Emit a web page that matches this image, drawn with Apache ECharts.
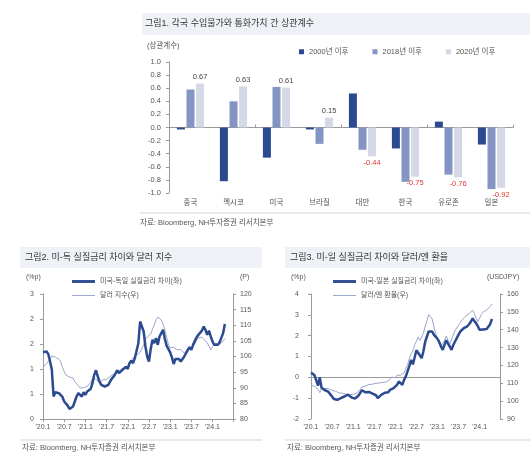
<!DOCTYPE html>
<html><head><meta charset="utf-8">
<script src="https://cdn.jsdelivr.net/npm/echarts@6/dist/echarts.min.js"></script>
<style>html,body{margin:0;padding:0;background:#fff}#c{width:530px;height:458px}</style>
</head><body><div id="c"></div>
<script>
const FONT = "'Liberation Sans', 'Noto Sans CJK KR', sans-serif";

// ---- Figure 1: correlation bars ----
const barCategories = ['중국','멕시코','미국','브라질','대만','한국','유로존','일본'];
const since2000 = [-0.03,-0.82,-0.46,-0.03,0.52,-0.32,0.09,-0.26];
const since2018 = [0.58,0.40,0.62,-0.25,-0.34,-0.83,-0.72,-0.94];
const since2020 = [0.67,0.63,0.61,0.15,-0.44,-0.75,-0.76,-0.92];
const barSeriesNames = ['2000년 이후','2018년 이후','2020년 이후'];

// ---- Figures 2 & 3: half-monthly readings from Jan 2020 ----
const xTickLabels = ["'20.1","'20.7","'21.1","'21.7","'22.1","'22.7","'23.1","'23.7","'24.1"];

const rateDiffUSDE = [1.60,1.62,1.62,1.56,1.38,1.18,0.54,0.64,0.66,0.62,
 0.58,0.53,0.42,0.37,0.32,0.24,0.20,0.30,0.42,0.54,
 0.62,0.58,0.54,0.64,0.58,0.66,0.62,0.72,0.86,1.06,
 1.17,1.02,0.90,0.82,0.85,0.78,0.74,0.82,0.90,0.97,
 1.02,1.09,1.17,1.10,1.14,1.18,1.14,1.25,1.20,1.34,
 1.40,1.34,1.46,1.42,1.82,2.34,2.31,2.10,1.74,1.50,
 1.38,1.68,1.90,1.82,1.94,1.78,1.98,2.06,2.14,1.92,
 1.76,1.80,1.60,1.48,1.32,1.44,1.48,1.44,1.38,1.42,
 1.50,1.54,1.66,1.72,1.66,1.78,1.88,1.96,2.02,2.06,
 2.12,2.22,2.14,2.02,2.12,1.98,1.86,1.78,1.82,1.78,
 1.84,1.88,2.06,2.28];

const dollarIndex = [96.6,97.0,97.7,98.4,99.1,100.2,100.0,99.8,99.5,99.1,
 98.4,96.6,95.2,94.1,93.6,93.4,93.6,93.1,92.0,91.3,
 90.6,89.9,89.6,90.0,90.2,90.4,91.0,91.7,92.8,93.4,
 92.8,92.2,91.5,92.0,92.6,93.0,92.6,93.1,93.6,94.0,
 94.3,94.7,94.9,95.3,95.7,96.0,96.6,97.2,97.0,98.3,
 98.9,99.5,100.0,100.5,101.1,101.3,102.7,103.7,105.5,106.2,
 105.9,107.2,108.7,110.1,111.7,112.6,112.8,111.7,110.4,108.5,
 106.2,104.0,102.7,102.1,103.0,102.4,102.1,102.6,102.3,101.7,
 101.1,101.5,101.9,102.1,102.7,103.2,104.0,105.1,106.0,106.4,
 106.2,105.5,105.7,104.5,103.2,102.1,103.2,103.6,104.3,103.6,
 103.2,104.3,105.0,105.7];

const rateDiffUSJP = [0.23,0.15,0.10,0.02,-0.40,0.00,-0.50,-0.58,-0.62,-0.66,
 -0.70,-0.82,-0.92,-1.04,-1.05,-1.08,-1.04,-1.00,-0.98,-0.92,
 -0.86,-0.83,-0.92,-0.96,-0.98,-1.02,-0.96,-0.88,-0.75,-0.62,
 -0.66,-0.72,-0.76,-0.70,-0.62,-0.78,-0.72,-0.86,-1.00,-0.92,
 -0.84,-0.78,-0.74,-0.76,-0.72,-0.60,-0.68,-0.52,-0.45,-0.36,
 -0.20,-0.28,-0.36,-0.12,0.05,0.30,0.55,0.84,0.62,0.95,
 1.30,1.18,1.22,0.92,1.25,1.70,1.96,2.20,2.28,2.20,
 2.04,1.96,1.85,1.70,1.48,1.32,1.56,1.78,1.62,1.48,
 1.32,1.55,1.72,1.88,2.05,2.20,2.28,2.36,2.40,2.45,
 2.55,2.67,2.83,2.70,2.60,2.45,2.28,2.33,2.30,2.36,
 2.32,2.40,2.55,2.80];

const usdJpy = [108.6,109.2,108.5,107.5,106.5,104.8,107.0,107.8,107.2,107.5,
 107.0,106.5,106.0,106.2,105.5,105.0,104.6,104.8,104.4,104.0,
 103.8,104.2,103.6,103.5,103.8,104.0,104.5,105.5,106.5,108.0,
 109.0,108.5,108.8,109.3,110.0,109.5,110.2,110.0,109.8,110.2,
 110.0,110.5,111.0,110.8,111.5,112.3,113.5,113.8,113.0,114.5,
 115.0,114.5,115.2,116.0,116.8,120.5,124.0,126.5,128.0,131.5,
 133.5,136.0,134.0,134.5,138.0,142.0,145.0,148.5,149.5,146.0,
 141.5,138.0,134.5,132.0,130.5,131.0,134.0,136.5,135.5,132.0,
 133.0,137.0,139.5,140.5,142.5,144.0,145.5,146.5,147.5,148.0,
 149.0,150.0,151.0,149.0,146.5,144.5,146.5,148.5,150.0,150.5,
 151.0,152.0,153.0,154.5];

// months since Jan 2020 of each reading (half-month steps)
const monthsSince2020 = rateDiffUSDE.map((_, i) => i * 0.5);
const pairs = vals => vals.map((v, i) => [monthsSince2020[i], v]);

const DARK = '#2C4A90', MID = '#8495C3', LIGHT = '#D5D9E6', THIN = '#9AA4CC';
const AX = '#9a9a9a', TXT = '#555';
const THICK_ICON = 'path://M0,0H24V3H0Z';
const THIN_ICON = 'path://M0,0H24V1H0Z';

const xFmt = v => { const k = v / 6; return Math.abs(k - Math.round(k)) < 1e-6 ? (xTickLabels[Math.round(k)] || '') : ''; };

const chart = echarts.init(document.getElementById('c'), null, {renderer: 'canvas'});

const lineX = (grid, showLine) => ({
  type: 'value', gridIndex: grid, min: 0, max: 53.8, interval: 6,
  axisLine: {show: showLine, onZero: false, lineStyle: {color: AX}},
  axisTick: {show: showLine, length: 3, lineStyle: {color: AX}},
  splitLine: {show: false},
  axisLabel: {fontSize: 7, color: TXT, margin: 5, fontFamily: FONT, formatter: xFmt}
});
const yAx = (grid, pos, min, max, interval, margin, fmt, fs) => ({
  type: 'value', gridIndex: grid, position: pos, min, max, interval,
  axisLine: {show: true, onZero: false, lineStyle: {color: AX}},
  axisTick: {show: true, length: 3, lineStyle: {color: AX}},
  splitLine: {show: false},
  axisLabel: {fontSize: fs || 7, color: TXT, margin, fontFamily: FONT, formatter: fmt}
});
const lineLegend = (left, names) => ({
  orient: 'vertical', left, top: 278, itemWidth: 23, itemHeight: 8, itemGap: 7, padding: 0,
  symbolKeepAspect: true,
  data: [{name: names[0], icon: THICK_ICON}, {name: names[1], icon: THIN_ICON}],
  textStyle: {fontSize: 7, color: TXT, fontFamily: FONT}
});

const option = {
  animation: false,
  textStyle: {fontFamily: FONT},
  title: [
    {text: '그림1. 각국 수입물가와 통화가치 간 상관계수', left: 145, top: 19, padding: 0,
     textStyle: {fontSize: 9, fontWeight: 'normal', color: '#333', fontFamily: FONT}},
    {text: '그림2. 미-독 실질금리 차이와 달러 지수', left: 25, top: 253, padding: 0,
     textStyle: {fontSize: 9, fontWeight: 'normal', color: '#333', fontFamily: FONT}},
    {text: '그림3. 미-일 실질금리 차이와 달러/엔 환율', left: 290, top: 253, padding: 0,
     textStyle: {fontSize: 9, fontWeight: 'normal', color: '#333', fontFamily: FONT}}
  ],
  legend: [
    {left: 299, top: 48, itemWidth: 5, itemHeight: 5, itemGap: 24, icon: 'rect', padding: 0,
     data: barSeriesNames, textStyle: {fontSize: 7.5, color: TXT, fontFamily: FONT}},
    lineLegend(72, ['미국-독일 실질금리 차이(좌)', '달러 지수(우)']),
    lineLegend(333, ['미국-일본 실질금리 차이(좌)', '달러/엔 환율(우)'])
  ],
  grid: [
    {left: 169, top: 62, right: 17, bottom: 265, outerBoundsMode: 'none'},
    {left: 43, top: 294, right: 297, bottom: 39, outerBoundsMode: 'none'},
    {left: 311, top: 294, right: 30, bottom: 39, outerBoundsMode: 'none'}
  ],
  xAxis: [
    {type: 'category', gridIndex: 0, data: barCategories,
     axisLine: {show: false, onZero: false}, axisTick: {show: false},
     axisLabel: {fontSize: 7.5, color: TXT, margin: 6, fontFamily: FONT}},
    {type: 'category', gridIndex: 0, data: barCategories,
     axisLine: {show: true, onZero: true, lineStyle: {color: AX}},
     axisTick: {show: true, length: 3, lineStyle: {color: AX}},
     axisLabel: {show: false}},
    lineX(1, true),
    lineX(2, false),
    {type: 'value', gridIndex: 2, min: 0, max: 53.8, interval: 6,
     axisLine: {show: true, onZero: true, lineStyle: {color: AX}},
     axisTick: {show: false}, axisLabel: {show: false}, splitLine: {show: false}}
  ],
  yAxis: [
    yAx(0, 'left', -1, 1, 0.2, 8, v => v.toFixed(1), 7.5),
    yAx(1, 'left', 0, 3, 0.6, 9, v => v.toFixed(0)),
    yAx(1, 'right', 80, 120, 5, 7, v => String(v)),
    yAx(2, 'left', -2, 4, 1, 12, v => String(v)),
    yAx(2, 'right', 90, 160, 10, 7, v => String(v))
  ],
  graphic: [
    {type: 'rect', z: -1, shape: {x: 142, y: 13, width: 388, height: 22}, style: {fill: '#EEF1F6'}},
    {type: 'rect', z: -1, shape: {x: 20, y: 247, width: 242, height: 21}, style: {fill: '#EEF1F6'}},
    {type: 'rect', z: -1, shape: {x: 285, y: 247, width: 245, height: 21}, style: {fill: '#EEF1F6'}},
    {type: 'line', shape: {x1: 140, y1: 213, x2: 530, y2: 213}, style: {stroke: '#e2e2e2', lineWidth: 1.5}},
    {type: 'line', shape: {x1: 20, y1: 440, x2: 262, y2: 440}, style: {stroke: '#e2e2e2', lineWidth: 1.5}},
    {type: 'line', shape: {x1: 285, y1: 440, x2: 530, y2: 440}, style: {stroke: '#e2e2e2', lineWidth: 1.5}},
    {type: 'text', left: 140, top: 219, style: {text: '자료: Bloomberg, NH투자증권 리서치본부', fontSize: 7.5, fill: TXT, fontFamily: FONT}},
    {type: 'text', left: 22, top: 444, style: {text: '자료: Bloomberg, NH투자증권 리서치본부', fontSize: 7.5, fill: TXT, fontFamily: FONT}},
    {type: 'text', left: 287, top: 444, style: {text: '자료: Bloomberg, NH투자증권 리서치본부', fontSize: 7.5, fill: TXT, fontFamily: FONT}},
    {type: 'text', left: 147, top: 42, style: {text: '(상관계수)', fontSize: 7.5, fill: TXT, fontFamily: FONT}},
    {type: 'text', left: 26, top: 274, style: {text: '(%p)', fontSize: 7, fill: TXT, fontFamily: FONT}},
    {type: 'text', left: 240, top: 274, style: {text: '(P)', fontSize: 7, fill: TXT, fontFamily: FONT}},
    {type: 'text', left: 291, top: 274, style: {text: '(%p)', fontSize: 7, fill: TXT, fontFamily: FONT}},
    {type: 'text', left: 487, top: 274, style: {text: '(USDJPY)', fontSize: 7, fill: TXT, fontFamily: FONT}}
  ],
  series: [
    {name: barSeriesNames[0], type: 'bar', xAxisIndex: 0, yAxisIndex: 0, data: since2000,
     barWidth: 8, barGap: '20%', itemStyle: {color: DARK}},
    {name: barSeriesNames[1], type: 'bar', xAxisIndex: 0, yAxisIndex: 0, data: since2018,
     barWidth: 8, barGap: '20%', itemStyle: {color: MID}},
    {name: barSeriesNames[2], type: 'bar', xAxisIndex: 0, yAxisIndex: 0, barWidth: 8, barGap: '20%',
     itemStyle: {color: LIGHT},
     data: since2020.map(v => ({value: v, label: {show: true, position: v < 0 ? 'bottom' : 'top',
       color: v < 0 ? '#E2382E' : '#444', fontSize: 7.5, distance: 3, fontFamily: FONT,
       formatter: p => p.value.toFixed(2)}}))},
    {name: '달러 지수(우)', type: 'line', xAxisIndex: 2, yAxisIndex: 2, data: pairs(dollarIndex),
     symbol: 'none', z: 2, lineStyle: {color: THIN, width: 1}, itemStyle: {color: THIN}},
    {name: '미국-독일 실질금리 차이(좌)', type: 'line', xAxisIndex: 2, yAxisIndex: 1, data: pairs(rateDiffUSDE),
     symbol: 'none', z: 3, lineStyle: {color: DARK, width: 2.5}, itemStyle: {color: DARK}},
    {name: '달러/엔 환율(우)', type: 'line', xAxisIndex: 3, yAxisIndex: 4, data: pairs(usdJpy),
     symbol: 'none', z: 2, lineStyle: {color: THIN, width: 1}, itemStyle: {color: THIN}},
    {name: '미국-일본 실질금리 차이(좌)', type: 'line', xAxisIndex: 3, yAxisIndex: 3, data: pairs(rateDiffUSJP),
     symbol: 'none', z: 3, lineStyle: {color: DARK, width: 2.5}, itemStyle: {color: DARK}}
  ]
};
chart.setOption(option);
</script>
</body></html>
